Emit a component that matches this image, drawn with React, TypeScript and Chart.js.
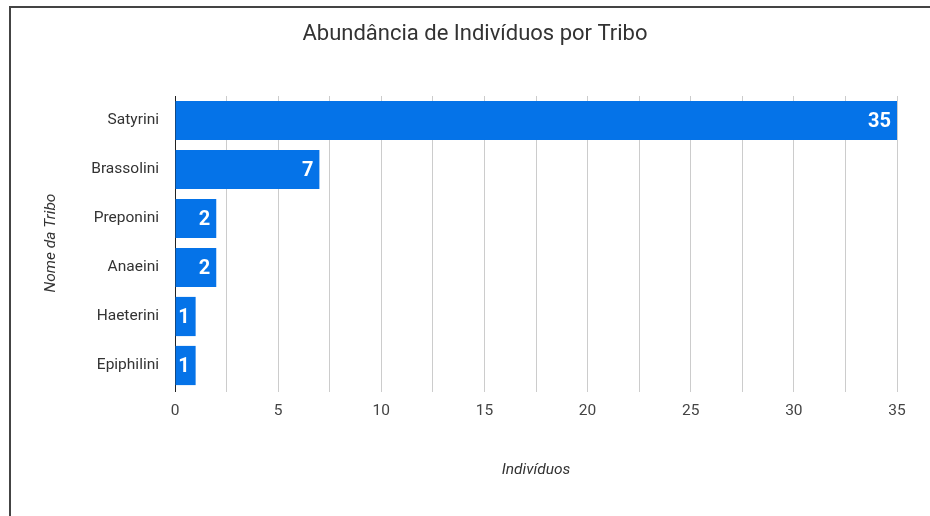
import React, { useEffect, useRef } from "react";
import { Chart, registerables } from "chart.js";

Chart.register(...registerables);

const categories = ["Satyrini", "Brassolini", "Preponini", "Anaeini", "Haeterini", "Epiphilini"];
const individuos = [35, 7, 2, 2, 1, 1];
const titleText = "Abundância de Indivíduos por Tribo";
const xTitle = "Indivíduos";
const yTitle = "Nome da Tribo";

const FONT = "Roboto, 'Noto Sans', sans-serif";

const barLabels = {
  id: "barLabels",
  afterDatasetsDraw(chart: any) {
    const { ctx } = chart;
    const meta = chart.getDatasetMeta(0);
    ctx.save();
    ctx.fillStyle = "#ffffff";
    ctx.font = `bold 20px ${FONT}`;
    ctx.textAlign = "right";
    ctx.textBaseline = "middle";
    meta.data.forEach((bar: any, i: number) => {
      ctx.fillText(String(individuos[i]), bar.x - 6, bar.y + 1);
    });
    ctx.restore();
  },
};

const chartTitle = {
  id: "chartTitle",
  afterDraw(chart: any) {
    const { ctx } = chart;
    ctx.save();
    ctx.fillStyle = "#333333";
    ctx.font = `22px ${FONT}`;
    ctx.textAlign = "center";
    ctx.textBaseline = "middle";
    ctx.fillText(titleText, 475, 34);
    ctx.restore();
  },
};

export default function App() {
  const ref = useRef<HTMLCanvasElement | null>(null);

  useEffect(() => {
    if (!ref.current) return;
    const chart = new Chart(ref.current, {
      type: "bar",
      data: {
        labels: categories,
        datasets: [
          {
            data: individuos,
            backgroundColor: "#0573E8",
            categoryPercentage: 0.8,
            barPercentage: 1.0,
          },
        ],
      },
      plugins: [barLabels, chartTitle],
      options: {
        indexAxis: "y",
        responsive: false,
        animation: false,
        layout: { padding: { left: 0, right: 33, top: 96, bottom: 0 } },
        plugins: {
          legend: { display: false },
          tooltip: { enabled: false },
          title: { display: false },
        },
        scales: {
          x: {
            type: "linear",
            min: 0,
            max: 35,
            afterFit(scale: any) {
              scale.height = 126;
            },
            ticks: {
              stepSize: 2.5,
              autoSkip: false,
              maxRotation: 0,
              padding: 10,
              color: "#444444",
              font: { family: FONT, size: 15.5 },
              callback: (v: any) => (Number(v) % 5 === 0 ? String(v) : ""),
            },
            grid: {
              color: (c: any) => (c.tick && c.tick.value === 0 ? "#222222" : "#cccccc"),
              lineWidth: 1,
              drawTicks: true,
              tickLength: 2,
            },
            border: { display: false },
            title: {
              display: true,
              text: xTitle,
              color: "#333333",
              font: { family: FONT, size: 15.5, style: "italic" },
              padding: { top: 0, bottom: 36.7 },
            },
          },
          y: {
            z: 1,
            afterFit(scale: any) {
              scale.width = 175;
            },
            ticks: {
              padding: 16,
              color: "#333333",
              font: { family: FONT, size: 15.5 },
            },
            grid: { display: false, drawTicks: false },
            border: { display: true, color: "#222222", width: 1 },
            title: {
              display: true,
              text: yTitle,
              color: "#333333",
              font: { family: FONT, size: 15.5, style: "italic" },
              padding: { top: 42, bottom: 0 },
            },
          },
        },
      },
    } as any);
    return () => chart.destroy();
  }, []);

  return (
    <div style={{ position: "fixed", left: 0, top: 0, width: 930, height: 516, background: "#fff" }}>
      <canvas ref={ref} width={930} height={516} style={{ position: "absolute", left: 0, top: 0, width: 930, height: 516 }} />
      <div
        style={{
          position: "absolute",
          left: 9,
          top: 6,
          right: 0,
          bottom: 0,
          borderTop: "2px solid #444",
          borderLeft: "2px solid #444",
          pointerEvents: "none",
        }}
      />
    </div>
  );
}
